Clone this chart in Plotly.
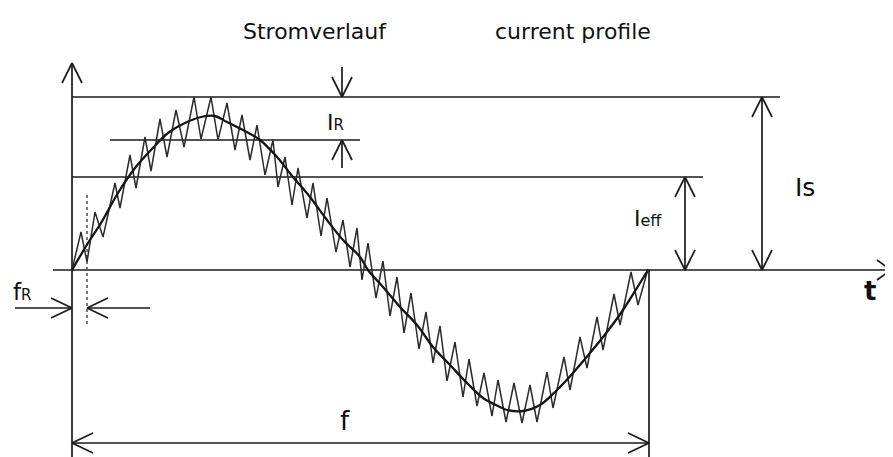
import plotly.graph_objects as go

# ---------------- data (arbitrary units) ----------------
# smooth fundamental (sine-like) current
curve_t = [0, 16, 29, 46, 63, 79, 96, 113, 129, 143, 155, 171, 188, 205, 221, 238, 255, 271, 288, 296,
           311, 328, 345, 361, 378, 395, 411, 428, 435, 451, 468, 485, 501, 518, 535, 551, 568, 576]
curve_i = [0, 27, 47, 77, 102, 120, 137, 147, 153, 154, 148, 140, 130, 113, 93, 73, 50, 30, 13, 0,
           -17, -37, -55, -77, -95, -113, -128, -137, -140, -141, -135, -120, -103, -83, -62, -40, -13, 0]

# rippled (chopper) current, zig-zag vertices
ripple_t = [0, 9, 15, 23, 31, 43, 48, 58, 64, 73, 79, 88, 95, 104, 112, 122, 129, 139, 146, 155,
            163, 170, 178, 185, 193, 201, 206, 213, 220, 226, 235, 241, 249, 255, 264, 271, 278, 285,
            290, 296, 304, 311, 318, 325, 332, 339, 347, 354, 361, 368, 375, 383, 391, 397, 405, 412,
            420, 426, 434, 442, 450, 458, 465, 475, 481, 492, 498, 508, 515, 525, 531, 542, 548, 559,
            566, 576]
ripple_i = [0, 38, 8, 58, 33, 87, 62, 115, 82, 133, 99, 151, 113, 160, 123, 173, 131, 173, 130, 167,
            120, 155, 110, 145, 95, 130, 83, 113, 65, 102, 52, 87, 34, 72, 18, 50, 3, 42,
            -10, 27, -28, 9, -46, -7, -63, -23, -79, -42, -93, -56, -111, -72, -127, -89, -136, -103,
            -146, -110, -152, -113, -153, -115, -152, -102, -138, -87, -120, -67, -98, -47, -80, -24, -55, -2,
            -35, 1]

# characteristic levels
PERIOD = 577      # f
FR = 15           # ripple period f_R
IS = 173          # peak current Is
IR_LOW = 130      # lower edge of ripple band I_R
IEFF = 93         # effective current Ieff

# ---------------- helpers for the drawing ----------------
segs_x, segs_y = [], []


def seg(x0, y0, x1, y1):
    segs_x.extend([x0, x1, None])
    segs_y.extend([y0, y1, None])


def head(xt, yt, dx, dy):
    """open V arrow head with tip (xt,yt); (dx,dy) points backwards along the shaft"""
    if dx == 0:
        seg(xt - 10, yt + dy, xt, yt)
        seg(xt, yt, xt + 10, yt + dy)
    else:
        seg(xt + dx, yt - 10, xt, yt)
        seg(xt, yt, xt + dx, yt + 10)


LO = -195
# axes
seg(0, LO, 0, 207); head(0, 207, 0, -20)
seg(-19, 0, 819, 0); head(819, 0, -14, 0)
# level lines
seg(0, IS, 708, IS)
seg(38, IR_LOW, 288, IR_LOW)
seg(0, IEFF, 631, IEFF)
# period end vertical
seg(PERIOD, 0, PERIOD, LO)
# I_R arrows
seg(270, IS + 30, 270, IS); head(270, IS, 0, 20)
seg(270, IR_LOW - 28, 270, IR_LOW); head(270, IR_LOW, 0, -20)
# Ieff double arrow
seg(613, 0, 613, IEFF); head(613, IEFF, 0, -20); head(613, 0, 0, 20)
# Is double arrow
seg(690, 0, 690, IS); head(690, IS, 0, -20); head(690, 0, 0, 20)
# f_R arrows
seg(-57, -38, 0, -38); head(0, -38, -21, 0)
seg(78, -38, FR, -38); head(FR, -38, 21, 0)
# f double arrow
seg(0, -173, PERIOD, -173); head(0, -173, 21, 0); head(PERIOD, -173, -21, 0)

fig = go.Figure()
fig.add_trace(go.Scatter(x=segs_x, y=segs_y, mode="lines",
                         line=dict(color="#1a1a1a", width=1.7), hoverinfo="skip"))
fig.add_trace(go.Scatter(x=[FR, FR], y=[75, -57], mode="lines",
                         line=dict(color="#555555", width=1.6, dash="dot"), hoverinfo="skip"))
fig.add_trace(go.Scatter(x=ripple_t, y=ripple_i, mode="lines",
                         line=dict(color="#2a2a2a", width=1.5), hoverinfo="skip"))
fig.add_trace(go.Scatter(x=curve_t, y=curve_i, mode="lines", line_shape="spline",
                         line=dict(color="#151515", width=2.3), hoverinfo="skip"))

FONT = "DejaVu Sans"


def label(x, y, text, size, xanchor="left"):
    fig.add_annotation(x=x, y=y, text=text, showarrow=False, xanchor=xanchor, yanchor="middle",
                       font=dict(family=FONT, size=size, color="#111111"))


label(243, 239, "Stromverlauf", 22, "center")
label(501, 239, "current profile", 22, "center")
label(253, 148, "I<span style='font-size:15px'>R</span>", 22)
label(560, 52, "I<span style='font-size:16px'>eff</span>", 22)
label(721, 83, "Is", 25)
label(790, -21, "<b>t</b>", 26)
label(-61, -22, "f<span style='font-size:15px'>R</span>", 23)
label(273, -151, "f", 26, "center")

# the page body adds an 8 px offset, so the ranges start 8 px earlier
fig.update_layout(
    width=893, height=457, autosize=False,
    margin=dict(l=0, r=0, t=0, b=0),
    paper_bgcolor="white", plot_bgcolor="white",
    showlegend=False,
    xaxis=dict(range=[-64, 829], visible=False, fixedrange=True),
    yaxis=dict(range=[LO, 262], visible=False, fixedrange=True),
)

fig.write_html("out.html")
